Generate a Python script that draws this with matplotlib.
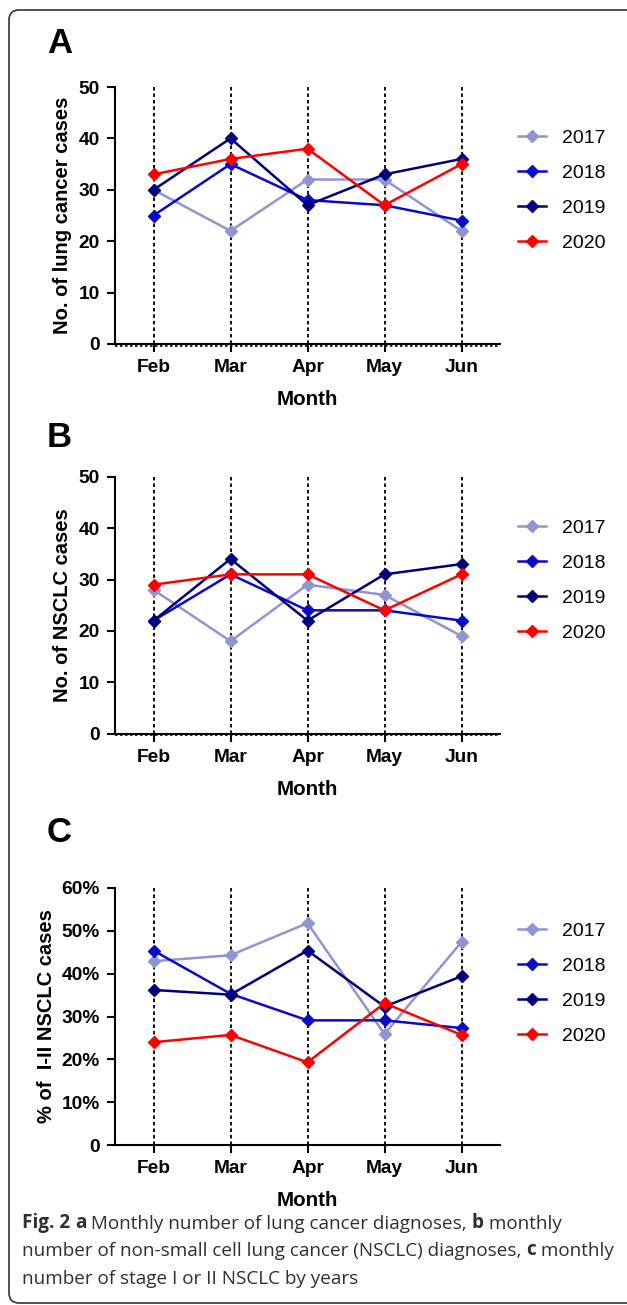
import matplotlib
matplotlib.use("Agg")
import matplotlib.pyplot as plt
import matplotlib.transforms as mtransforms
from matplotlib.patches import FancyBboxPatch
from matplotlib.ticker import FuncFormatter

# ---- data ----
months = ["Feb", "Mar", "Apr", "May", "Jun"]
years = ["2017", "2018", "2019", "2020"]
colors = ["#8F95D3", "#0A0AC8", "#00007A", "#FF0000"]

lung_2017 = [30, 22, 32, 32, 22]
lung_2018 = [25, 35, 28, 27, 24]
lung_2019 = [30, 40, 27, 33, 36]
lung_2020 = [33, 36, 38, 27, 35]

nsclc_2017 = [28, 18, 29, 27, 19]
nsclc_2018 = [22, 31, 24, 24, 22]
nsclc_2019 = [22, 34, 22, 31, 33]
nsclc_2020 = [29, 31, 31, 24, 31]

early_2017 = [42.9, 44.3, 51.8, 25.9, 47.4]
early_2018 = [45.4, 35.3, 29.1, 29.1, 27.3]
early_2019 = [36.2, 35.1, 45.4, 32.3, 39.4]
early_2020 = [24.0, 25.7, 19.3, 33.1, 25.7]

panels = [
    ("A", "No. of lung cancer cases", [lung_2017, lung_2018, lung_2019, lung_2020], 50, 10, False),
    ("B", "No. of NSCLC cases", [nsclc_2017, nsclc_2018, nsclc_2019, nsclc_2020], 50, 10, False),
    ("C", "% of  I-II NSCLC cases", [early_2017, early_2018, early_2019, early_2020], 60, 10, True),
]

W, H = 627, 1305
fig = plt.figure(figsize=(W / 100, H / 100), dpi=100)
fig.patch.set_facecolor("white")

# outer rounded frame
frame = FancyBboxPatch((9 / W, 2 / H), 700 / W, (H - 12) / H,
                       boxstyle="round,pad=0,rounding_size=0.016",
                       transform=fig.transFigure, fill=False,
                       edgecolor="#333333", linewidth=1.2, mutation_aspect=W / H)
fig.add_artist(frame)

sans = "Liberation Sans"
ax_tops = [87, 476.7, 888]
label_base = [53, 447, 842]
legend_tops = [129, 519, 922]
ylabel_x = [-0.112, -0.112, -0.152]

x = list(range(len(months)))

for i, (tag, ylab, series, ymax, step, pct) in enumerate(panels):
    top = ax_tops[i]
    ax = fig.add_axes([115 / W, 1 - (top + 257) / H, 385 / W, 257 / H])
    ax.set_xlim(-0.5, 4.5)
    ax.set_ylim(0, ymax)

    # dashed vertical guides at each month
    ax.vlines(x, 0, ymax, colors="black", linestyles=(0, (2, 1.6)), linewidth=1.3, zorder=1)

    for vals, col, yr in zip(series, colors, years):
        ax.plot(x, vals, color=col, linewidth=1.8, marker="D", markersize=6,
                label=yr, zorder=3, clip_on=False)

    for s in ["top", "right"]:
        ax.spines[s].set_visible(False)
    ax.spines["left"].set_linewidth(1.5)
    ax.spines["bottom"].set_linewidth(1.5)

    if not pct:
        # graphpad-style dotted zero line just under the axis
        off = mtransforms.offset_copy(ax.transData, fig=fig, x=0, y=-1.5, units="dots")
        ax.plot([-0.5, 4.5], [0, 0], color="black", linestyle=(0, (1.5, 1.5)),
                linewidth=1.2, transform=off, clip_on=False, zorder=2)

    ax.set_xticks(x)
    ax.set_xticklabels(months)
    ax.set_yticks(range(0, ymax + 1, step))
    if pct:
        ax.yaxis.set_major_formatter(FuncFormatter(lambda v, p: "0" if v == 0 else f"{int(v)}%"))
    ax.tick_params(axis="both", direction="out", length=6, width=1.5, pad=5,
                   labelsize=13.8)
    for lbl in ax.get_xticklabels() + ax.get_yticklabels():
        lbl.set_fontfamily(sans)
        lbl.set_fontweight("bold")

    ax.set_xlabel("Month", fontsize=14.8, fontweight="bold", fontfamily=sans, labelpad=10)
    ax.set_ylabel(ylab, fontsize=14.5, fontweight="bold", fontfamily=sans)
    ax.yaxis.set_label_coords(ylabel_x[i], 0.5)

    fig.text(47 / W, 1 - label_base[i] / H, tag, fontsize=25, fontweight="bold",
             fontfamily=sans, va="baseline", ha="left")

    fig.legend(handles=ax.get_lines()[:4], labels=years, loc="upper left",
               bbox_to_anchor=(518 / W, 1 - legend_tops[i] / H), frameon=False,
               borderpad=0, borderaxespad=0, handlelength=1.45, handletextpad=0.8,
               labelspacing=0.9, prop={"family": sans, "size": 14})

# ---- caption ----
cap = fig.add_axes([0, 0, 1, 1], facecolor="none")
cap.axis("off")
cap_font = "Open Sans"
cap_size = 13.6
cap_color = "#2f2f2f"
lines = [
    [("Fig. 2", True), (" ", False), ("a", True), (" Monthly number of lung cancer diagnoses, ", False),
     ("b", True), (" monthly", False)],
    [("number of non-small cell lung cancer (NSCLC) diagnoses, ", False), ("c", True), (" monthly", False)],
    [("number of stage I or II NSCLC by years", False)],
]
base_y = [1228, 1256, 1284]
for line, by in zip(lines, base_y):
    prev = None
    for txt, bold in line:
        kw = dict(fontsize=cap_size, fontfamily=cap_font, color=cap_color,
                  fontweight="bold" if bold else "normal", va="baseline", ha="left")
        if prev is None:
            prev = cap.text(22 / W, 1 - by / H, txt, transform=fig.transFigure, **kw)
        else:
            prev = cap.annotate(txt, xy=(1, 0), xycoords=prev, xytext=(0, 0),
                                textcoords="offset points",
                                **{**kw, "va": "bottom"})

fig.savefig("out.png", dpi=100)
